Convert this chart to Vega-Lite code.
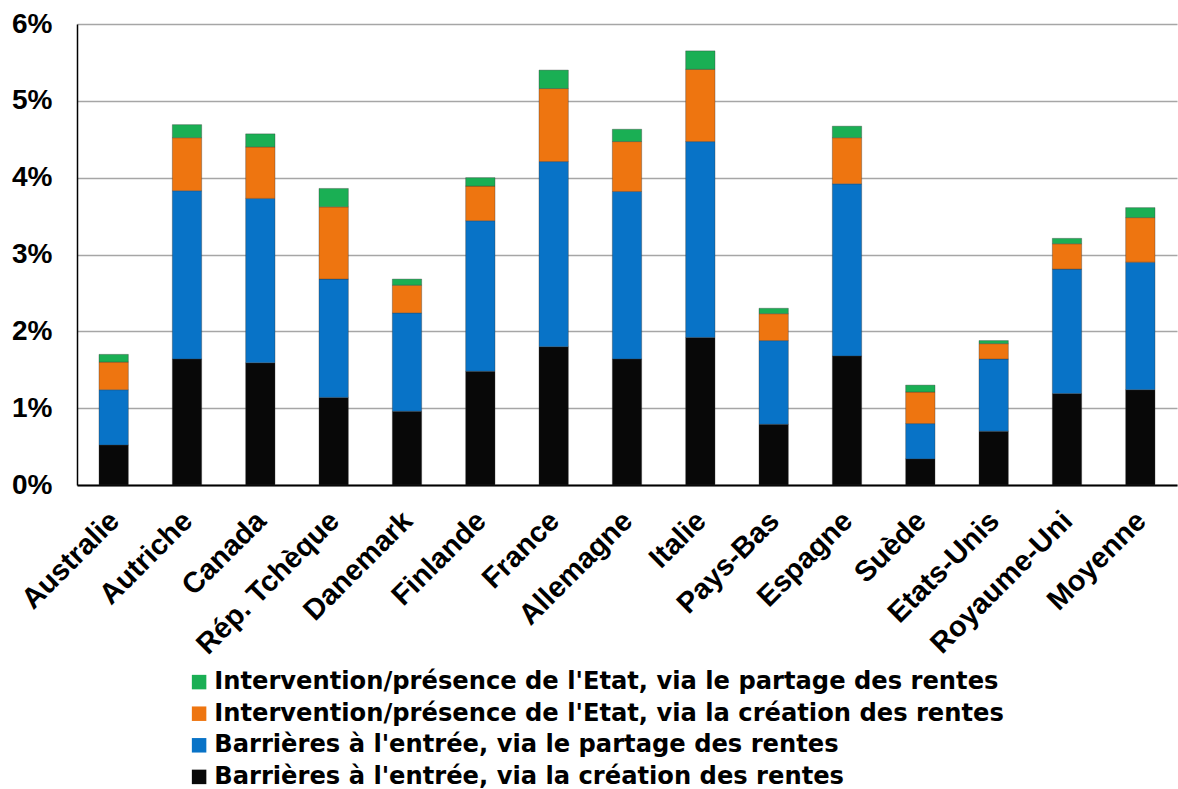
{
  "$schema": "https://vega.github.io/schema/vega-lite/v6.json",
  "autosize": {"type": "none"},
  "width": 1100,
  "height": 461,
  "padding": {"left": 77, "top": 24, "right": 1, "bottom": 304},
  "background": "white",
  "data": {
    "values": [
      {"pays": "Australie", "bc": 0.52, "bp": 0.72, "ic": 0.36, "ip": 0.10},
      {"pays": "Autriche", "bc": 1.64, "bp": 2.19, "ic": 0.69, "ip": 0.17},
      {"pays": "Canada", "bc": 1.59, "bp": 2.14, "ic": 0.67, "ip": 0.17},
      {"pays": "Rép. Tchèque", "bc": 1.14, "bp": 1.54, "ic": 0.94, "ip": 0.24},
      {"pays": "Danemark", "bc": 0.96, "bp": 1.28, "ic": 0.36, "ip": 0.08},
      {"pays": "Finlande", "bc": 1.48, "bp": 1.96, "ic": 0.45, "ip": 0.11},
      {"pays": "France", "bc": 1.80, "bp": 2.41, "ic": 0.95, "ip": 0.24},
      {"pays": "Allemagne", "bc": 1.64, "bp": 2.18, "ic": 0.65, "ip": 0.16},
      {"pays": "Italie", "bc": 1.92, "bp": 2.55, "ic": 0.94, "ip": 0.24},
      {"pays": "Pays-Bas", "bc": 0.79, "bp": 1.09, "ic": 0.35, "ip": 0.07},
      {"pays": "Espagne", "bc": 1.68, "bp": 2.24, "ic": 0.60, "ip": 0.15},
      {"pays": "Suède", "bc": 0.34, "bp": 0.46, "ic": 0.41, "ip": 0.09},
      {"pays": "Etats-Unis", "bc": 0.70, "bp": 0.94, "ic": 0.20, "ip": 0.04},
      {"pays": "Royaume-Uni", "bc": 1.19, "bp": 1.62, "ic": 0.33, "ip": 0.07},
      {"pays": "Moyenne", "bc": 1.24, "bp": 1.66, "ic": 0.58, "ip": 0.13}
    ]
  },
  "transform": [
    {"fold": ["bc", "bp", "ic", "ip"], "as": ["k", "v"]}
  ],
  "mark": {"type": "bar", "stroke": "#333333", "strokeOpacity": 0.35, "strokeWidth": 1},
  "encoding": {
    "x": {
      "field": "pays",
      "type": "nominal",
      "sort": null,
      "scale": {"paddingInner": 0.6, "paddingOuter": 0.3},
      "axis": {
        "title": null,
        "labelAngle": -45,
        "labelFont": "Liberation Sans",
        "labelFontWeight": "bold",
        "labelFontSize": 29,
        "labelColor": "#000000",
        "labelPadding": 21,
        "labelOffset": -9,
        "labelOverlap": false,
        "labelLimit": 0,
        "ticks": false,
        "domainColor": "#000000",
        "domainWidth": 2
      }
    },
    "y": {
      "field": "v",
      "type": "quantitative",
      "stack": "zero",
      "scale": {"domain": [0, 6], "nice": false},
      "axis": {
        "title": null,
        "values": [0, 1, 2, 3, 4, 5, 6],
        "labelExpr": "datum.value + '%'",
        "labelFont": "Liberation Sans",
        "labelFontWeight": "bold",
        "labelFontSize": 28,
        "labelColor": "#000000",
        "labelPadding": 25,
        "ticks": false,
        "domainColor": "#000000",
        "domainWidth": 1.5,
        "grid": true,
        "gridColor": "#a6a6a6",
        "gridWidth": 1.5
      }
    },
    "color": {
      "field": "k",
      "type": "nominal",
      "scale": {
        "domain": ["ip", "ic", "bp", "bc"],
        "range": ["#1aaf54", "#ee7510", "#0873c7", "#080808"]
      },
      "legend": {
        "title": null,
        "orient": "none",
        "legendX": 110,
        "legendY": 646,
        "direction": "vertical",
        "symbolType": "square",
        "symbolSize": 210,
        "symbolStrokeWidth": 0,
        "labelFont": "DejaVu Sans",
        "labelFontWeight": "bold",
        "labelFontSize": 24.2,
        "labelColor": "#000000",
        "labelOffset": 3,
        "labelLimit": 0,
        "rowPadding": 6.6,
        "labelExpr": "datum.label == 'ip' ? \"Intervention/présence de l'Etat, via le partage des rentes\" : datum.label == 'ic' ? \"Intervention/présence de l'Etat, via la création des rentes\" : datum.label == 'bp' ? \"Barrières à l'entrée, via le partage des rentes\" : \"Barrières à l'entrée, via la création des rentes\""
      }
    },
    "order": {"field": "k", "sort": "ascending"}
  },
  "config": {"view": {"stroke": null}}
}
